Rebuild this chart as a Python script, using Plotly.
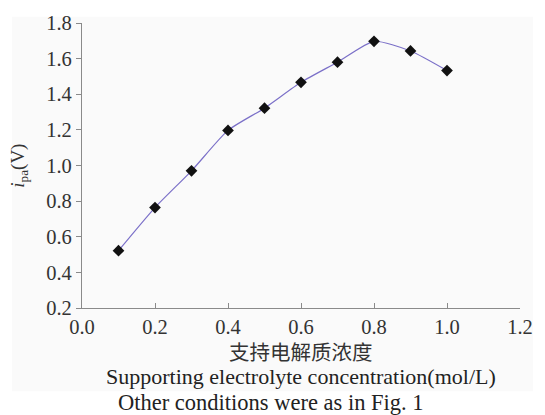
import plotly.graph_objects as go

conc = [0.1, 0.2, 0.3, 0.4, 0.5, 0.6, 0.7, 0.8, 0.9, 1.0]
ipa = [0.522, 0.764, 0.970, 1.197, 1.322, 1.467, 1.580, 1.697, 1.643, 1.533]
x_ticks = [0.0, 0.2, 0.4, 0.6, 0.8, 1.0, 1.2]
y_ticks = [0.2, 0.4, 0.6, 0.8, 1.0, 1.2, 1.4, 1.6, 1.8]

W, H = 545, 415
L, R, T, B = 82, 12.5, 17.3, 107.3
pw = W - L - R
ph = H - T - B

def px(x):
    return (x - L) / pw

def py(y):
    return (H - B - y) / ph

serif = "Liberation Serif"

fig = go.Figure()
fig.add_trace(go.Scatter(
    x=conc, y=ipa, mode="lines+markers",
    line=dict(color="#7b70c8", width=1.2, shape="spline", smoothing=0.6),
    marker=dict(symbol="diamond", size=9, color="#111111"),
    showlegend=False,
))

tickfont = dict(family=serif, size=20.5, color="#333333")
fig.update_xaxes(range=[0, 1.2], tickvals=x_ticks, ticktext=[f"{v:.1f}" for v in x_ticks],
                 ticks="inside", ticklen=5, tickcolor="#8a8a8a",
                 showgrid=False, zeroline=False, showline=True,
                 linecolor="#8a8a8a", linewidth=1.2, tickfont=tickfont)
fig.update_yaxes(range=[0.2, 1.8], tickvals=y_ticks, ticktext=[f"{v:.1f}" for v in y_ticks],
                 ticks="outside", ticklen=5, tickcolor="#8a8a8a",
                 showgrid=False, zeroline=False, showline=True,
                 linecolor="#8a8a8a", linewidth=1.2, tickfont=tickfont)

fig.add_shape(type="rect", xref="paper", yref="paper",
              x0=px(10), x1=px(546), y0=py(392.5), y1=py(11),
              fillcolor="#fafafa", line=dict(width=0), layer="below")

fig.add_annotation(text="<i>i</i><sub>pa</sub>(V)", xref="paper", yref="paper",
                   x=px(17), y=py(163), textangle=-90, showarrow=False,
                   xanchor="center", yanchor="middle",
                   font=dict(family=serif, size=19, color="#333333"))
fig.add_annotation(text="支持电解质浓度", xref="paper", yref="paper",
                   x=px(307.5), y=py(352), showarrow=False,
                   xanchor="center", yanchor="middle",
                   font=dict(family="Noto Sans CJK SC", size=20.5, color="#333333"))
fig.add_annotation(text="Supporting electrolyte concentration(mol/L)", xref="paper", yref="paper",
                   x=px(307.5), y=py(377), showarrow=False,
                   xanchor="center", yanchor="middle",
                   font=dict(family=serif, size=22, color="#222222"))
fig.add_annotation(text="Other conditions were as in Fig. 1", xref="paper", yref="paper",
                   x=px(276), y=py(404), showarrow=False,
                   xanchor="center", yanchor="middle",
                   font=dict(family=serif, size=22.5, color="#222222"))

fig.update_layout(
    width=W, height=H, margin=dict(l=L, r=R, t=T, b=B),
    paper_bgcolor="white", plot_bgcolor="rgba(0,0,0,0)",
)
fig.write_html("out.html")
